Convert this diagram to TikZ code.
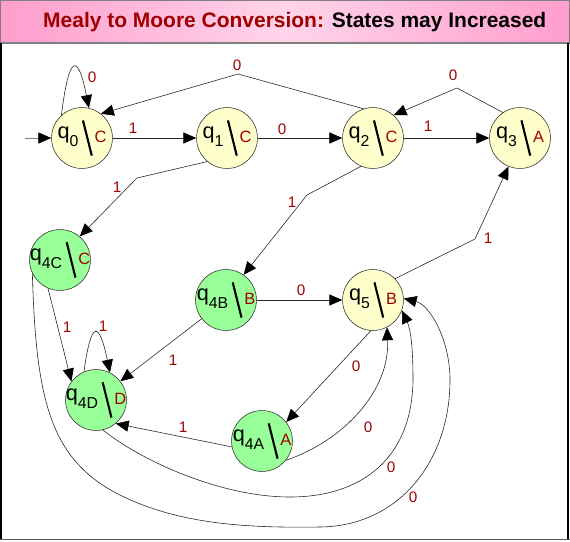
\documentclass[tikz,border=0pt]{standalone}
\usepackage{fontspec}
\setmainfont{Liberation Sans}
\usetikzlibrary{arrows.meta}
\definecolor{outred}{RGB}{160,0,0}
\definecolor{mooreyellow}{RGB}{255,255,204}
\definecolor{mooregreen}{RGB}{153,255,153}
\definecolor{titlepink}{RGB}{255,158,205}
\definecolor{titlelight}{RGB}{255,212,234}
\newcommand{\slashbar}{\raisebox{-15.2pt}{\rotatebox{14}{\rule{1.8pt}{31pt}}}}
\newcommand{\stlabel}[2]{\makebox[0pt]{\fontsize{18.5}{18.5}\selectfont q\raisebox{-7pt}{\fontsize{13.5}{13.5}\selectfont #1}\hspace{3pt}\slashbar\hspace{1.5pt}\raisebox{-4pt}{\fontsize{14}{14}\selectfont\color{outred}#2}}}

\begin{document}
\begin{tikzpicture}[x=0.03cm, y=-0.03cm,
		yellowstate/.style={circle, draw=black!80, line width=0.5pt, fill=mooreyellow, minimum size=52pt, inner sep=0pt},
		greenstate/.style={yellowstate, fill=mooregreen},
		trans/.style={draw=black!85, line width=0.5pt, -{Triangle[length=11pt,width=9.5pt,color=black]}},
		lbl/.style={text=outred, font=\fontsize{13}{13}\selectfont, inner sep=0pt}]
				\useasboundingbox (0,0) rectangle (570,541);
				
				\shade[left color=titlepink, right color=titlepink, middle color=titlelight] (0,0) rectangle (570,43);
				\draw[gray, line width=1.2pt] (0.7,0.7) rectangle (569.3,43);
				\draw[black, line width=1.5pt] (1,43) -- (1,540);
				\draw[black, line width=1.5pt] (568,43) -- (568,540);
				\draw[gray!70!black, line width=1.5pt] (0,539.5) -- (570,539.5);
				\node[anchor=west, inner sep=0pt, font=\bfseries\fontsize{17.9}{17.9}\selectfont] (title) at (43,22) {\textcolor{outred}{Mealy to Moore Conversion:} States may Increased};
				
				\node[yellowstate] (q0) at (82,138) {\stlabel{0}{C}};
				\node[yellowstate] (q1) at (227,138) {\stlabel{1}{C}};
				\node[yellowstate] (q2) at (373,138) {\stlabel{2}{C}};
				\node[yellowstate] (q3) at (520,138) {\stlabel{3}{A}};
				\node[greenstate] (q4C) at (60,260) {\stlabel{4C}{C}};
				\node[greenstate] (q4B) at (226,300) {\stlabel{4B}{B}};
				\node[yellowstate] (q5) at (373,300) {\stlabel{5}{B}};
				\node[greenstate] (q4D) at (96,400) {\stlabel{4D}{D}};
				\node[greenstate] (q4A) at (262,441) {\stlabel{4A}{A}};
				
				\coordinate (start) at (25,138);
				\coordinate (b20) at (238,74);
				\coordinate (b32) at (457,88);
				\coordinate (b14) at (137,178);
				\coordinate (b24) at (307,195);
				\coordinate (b53) at (475,239);
				
				\draw[trans, draw=gray] (start) -- (q0);
				\draw[trans] (q0.132) .. controls (69,53) and (78,53) .. (q0.77);
				\draw[trans] (q0) -- (q1);
				\draw[trans] (q1) -- (q2);
				\draw[trans] (q2) -- (q3);
				\draw[trans] (q2.108) -- (b20) -- (q0.52);
				\draw[trans] (q3.124) -- (b32) -- (q2.48);
				\draw[trans] (q1.230) -- (b14) -- (q4C.50);
				\draw[trans] (q2.247) -- (b24) -- (q4B.55);
				\draw[trans] (q4B) -- (q5);
				\draw[trans] (q5.44) -- (b53) -- (q3.248);
				\draw[trans] (q5.266) -- (q4A.38);
				\draw[trans] (q4A.-39) .. controls (345,440) and (390,390) .. (q5.-63);
				\draw[trans] (q4D.283) .. controls (140,460) and (220,497) .. (290,497) .. controls (360,497) and (412,460) .. (413,380) .. controls (413,350) and (411,330) .. (q5.-20);
				\draw[trans] (q4C.206) .. controls (36,400) and (50,460) .. (120,495) .. controls (180,525) and (250,528) .. (320,527) .. controls (400,526) and (450,460) .. (450,380) .. controls (450,340) and (430,305) .. (q5.3);
				\draw[trans] (q4B) -- (q4D);
				\draw[trans] (q4C.247) -- (q4D.143);
				\draw[trans] (q4A.191) -- (q4D.-50);
				\draw[trans] (q4D.113) .. controls (91,320) and (99,320) .. (q4D.63);
				
				\node[lbl] (l00) at (92,77) {0};
				\node[lbl] (l01) at (133,128) {1};
				\node[lbl] (l12) at (282,129) {0};
				\node[lbl] (l23) at (428,126) {1};
				\node[lbl] (l20) at (237,65) {0};
				\node[lbl] (l32) at (453,75) {0};
				\node[lbl] (l14) at (117,187) {1};
				\node[lbl] (l24) at (292,202) {1};
				\node[lbl] (l45) at (301,290) {0};
				\node[lbl] (l53) at (488,238) {1};
				\node[lbl] (l5a) at (356,366) {0};
				\node[lbl] (la5) at (368,427) {0};
				\node[lbl] (ld5) at (391,467) {0};
				\node[lbl] (lc5) at (413,497) {0};
				\node[lbl] (lbd) at (173,360) {1};
				\node[lbl] (lcd) at (67,327) {1};
				\node[lbl] (ldd) at (103,326) {1};
				\node[lbl] (lad) at (183,427) {1};
			\end{tikzpicture}
\end{document}
